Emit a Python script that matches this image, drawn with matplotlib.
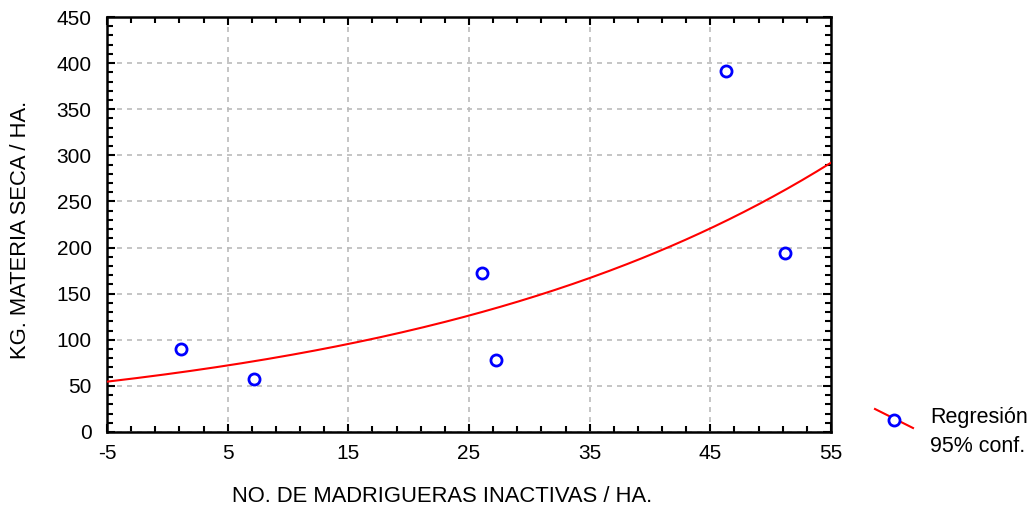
import numpy as np
import matplotlib.pyplot as plt
from matplotlib.lines import Line2D

plt.rcParams['font.family'] = ['Liberation Sans', 'DejaVu Sans']
plt.rcParams['axes.unicode_minus'] = False

# puntos observados
madrigueras = [1.1, 7.2, 26.1, 27.2, 46.3, 51.2]
materia_seca = [90, 57, 172, 78, 391, 194]

x_ticks = [-5, 5, 15, 25, 35, 45, 55]
y_ticks = [0, 50, 100, 150, 200, 250, 300, 350, 400, 450]

# regresion exponencial (ajuste log-lineal)
b, ln_a = np.polyfit(madrigueras, np.log(materia_seca), 1)
xs = np.linspace(-5, 55, 200)
ys = np.exp(ln_a + b * xs)

fig = plt.figure(figsize=(10.35, 5.09), dpi=100)
ax = fig.add_axes([0.1034, 0.1513, 0.6995, 0.8153])

ax.plot(xs, ys, color='red', lw=1.5, zorder=3)
ax.plot(madrigueras, materia_seca, 'o', mfc='none', mec='blue', mew=2, ms=8, zorder=4)

ax.set_xlim(-5, 55)
ax.set_ylim(0, 450)
ax.set_xticks(x_ticks)
ax.set_xticks(np.arange(-5, 56, 2), minor=True)
ax.set_yticks(y_ticks)
ax.set_yticks(np.arange(0, 451, 10), minor=True)
ax.tick_params(which='both', direction='in', top=True, right=True, width=1.5, labelsize=15)
ax.tick_params(which='major', length=6)
ax.tick_params(axis='x', which='major', pad=9)
ax.tick_params(axis='y', which='major', pad=11)
ax.tick_params(which='minor', length=4)
for s in ax.spines.values():
    s.set_linewidth(1.8)
ax.grid(True, color='#bbbbbb', linestyle=(0, (3, 3)), lw=1.2)

ax.set_xlabel('NO. DE MADRIGUERAS INACTIVAS / HA.', fontsize=15.8)
ax.xaxis.set_label_coords((442 - 107) / 724, (432 - 496) / 414, transform=ax.transAxes)
ax.xaxis.label.set_va('center')
ax.set_ylabel('KG. MATERIA SECA / HA.', fontsize=15.8)
ax.yaxis.set_label_coords((20 - 107) / 724, (432 - 230) / 414, transform=ax.transAxes)
ax.yaxis.label.set_va('center')

# leyenda
fig.add_artist(Line2D([875 / 1035, 913 / 1035], [1 - 409 / 509, 1 - 428 / 509], color='red', lw=1.5))
fig.add_artist(Line2D([894 / 1035], [1 - 420 / 509], marker='o', mfc='white', mec='blue', mew=2, ms=8))
fig.text(930 / 1035, 1 - 417 / 509, 'Regresión', fontsize=15.5, va='center')
fig.text(930 / 1035, 1 - 446 / 509, '95% conf.', fontsize=15.5, va='center')

fig.savefig('out.png', dpi=100)
